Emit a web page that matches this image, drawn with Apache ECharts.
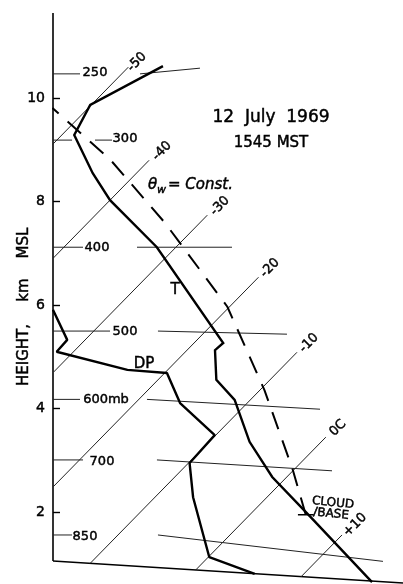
<!DOCTYPE html>
<html>
<head>
<meta charset="utf-8">
<script src="https://cdn.jsdelivr.net/npm/echarts@6/dist/echarts.min.js"></script>
<style>
  html, body { margin: 0; padding: 0; background: #fff; }
  #chart { width: 403px; height: 584px; }
</style>
</head>
<body>
<div id="chart"></div>
<script>
// sounding 12 July 1969, 1545 MST -- heights in km MSL, temperatures in deg C
const tempHeight = [0.65, 1.91, 2.68, 3.36, 4.17, 4.56, 5.13, 5.27, 7.12, 8.03, 8.55, 9.29, 9.87, 10.62];
const tempValue  = [16.8, 5.6, -1.3, -6.4, -11.4, -14.8, -17.5, -17.4, -31.7, -40.0, -43.9, -48.9, -50.1, -47.0];

const dewHeight = [0.81, 1.13, 2.29, 2.95, 3.49, 4.11, 4.69, 4.75, 5.10, 5.33, 5.91];
const dewValue  = [5.6, 0.1, -6.6, -9.9, -10.1, -16.0, -19.8, -23.6, -31.5, -31.6, -35.5];

// moist adiabat from cloud base
const thetaHeight = [1.95, 2.82, 4.36, 5.97, 7.59, 8.81, 9.81];
const thetaValue  = [5.0, -0.1, -9.6, -20.2, -33.1, -43.5, -53.2];
const cloudBaseHeight = 1.95;
const cloudBaseTemp = 5.0;

// isotherms
const isoTemps  = [-50, -40, -30, -20, -10, 0, 10];
const isoLabels = ['-50', '-40', '-30', '-20', '-10', '0C', '+10'];
const isoBottom = [9.11, 6.91, 4.71, 2.49, 1.01, 0.88, 0.75];
const isoTop    = [10.60, 8.80, 7.74, 6.54, 5.09, 3.45, 1.56];

// isobars (height at the axis and at the right end, skewed x of the pieces)
const isobarLabels = ['250', '300', '400', '500', '600mb', '700', '850'];
const isobarHeight = [10.47, 9.19, 7.12, 5.50, 4.18, 3.01, 1.56];
const isobarEndHeight = [10.58, 9.19, 7.12, 5.44, 3.99, 2.80, 1.05];
const isobarLeftEnd   = [-6.33, -7.04, -6.06, -3.65, -6.33, -6.06, -7.04];
const isobarRightFrom = [-0.97, -4.99, -1.24, 0.63, -0.35, 0.54, 0.63];
const isobarRightTo   = [4.38, -3.47, 7.24, 12.15, 15.10, 16.17, 20.72];

const heightTicks = [2, 4, 6, 8, 10];

const SKEW = 4.527;           // skew of the isotherms, deg per km
const X_MIN = -8.741, X_MAX = 22.509;
const Y_MIN = 0.632, Y_MAX = 11.646;
const BASE_LEFT = 1.057;      // where the frame bottom meets the axis

function skew(t, z) { return t + SKEW * z; }

const chart = echarts.init(document.getElementById('chart'));

const thin = { color: '#222', width: 1 };
function lineSeries(data, style, extra) {
  return Object.assign({
    type: 'line', data: data, symbol: 'none', silent: true,
    lineStyle: style, animation: false
  }, extra || {});
}

const series = [];

// frame
series.push(lineSeries([[X_MIN, BASE_LEFT], [X_MIN, Y_MAX]], { color: '#000', width: 1.6 }, { clip: false }));
series.push(lineSeries([[X_MIN, BASE_LEFT], [X_MAX, Y_MIN]], { color: '#000', width: 1.4 }, { clip: false }));

// isotherms
isoTemps.forEach(function (t, i) {
  series.push(lineSeries([[skew(t, isoBottom[i]), isoBottom[i]], [skew(t, isoTop[i]), isoTop[i]]], thin));
});

// isobars
isobarLabels.forEach(function (p, i) {
  series.push(lineSeries([[X_MIN, isobarHeight[i]], [isobarLeftEnd[i], isobarHeight[i]]], thin));
  series.push(lineSeries([[isobarRightFrom[i], isobarHeight[i]], [isobarRightTo[i], isobarEndHeight[i]]], thin));
});

// temperature, dew point, moist adiabat
series.push(lineSeries(tempHeight.map(function (z, i) { return [skew(tempValue[i], z), z]; }),
  { color: '#000', width: 2.4, join: 'miter' }));
series.push(lineSeries(dewHeight.map(function (z, i) { return [skew(dewValue[i], z), z]; }),
  { color: '#000', width: 2.4 }));
series.push(lineSeries(thetaHeight.map(function (z, i) { return [skew(thetaValue[i], z), z]; }),
  { color: '#000', width: 2, type: [18, 12] }));

// cloud base marker
const cb = skew(cloudBaseTemp, cloudBaseHeight);
series.push(lineSeries([[cb - 0.7, cloudBaseHeight], [cb + 0.7, cloudBaseHeight]], { color: '#000', width: 1.4 }));

const FONT = 'DejaVu Sans';
function txt(text, x, y, size, opts) {
  opts = opts || {};
  return {
    type: 'text', x: x, y: y, rotation: opts.rotation || 0, silent: true,
    style: {
      text: text, fill: '#000', stroke: '#000', lineWidth: 0.45,
      font: (opts.style || 'normal') + ' normal ' + size + 'px "' + FONT + '"',
      textAlign: opts.align || 'center', textVerticalAlign: 'middle'
    }
  };
}

const isobarLabelPos = [[95, 73], [125, 139], [97, 248], [125, 332], [106, 400], [102, 462], [85, 537]];
const isoLabelPos = [[137, 62], [162, 151], [220, 206], [270, 268], [309, 343], [338, 428], [355, 525]];

const graphics = [];
isobarLabels.forEach(function (p, i) {
  graphics.push(txt(p, isobarLabelPos[i][0], isobarLabelPos[i][1], 13));
});
isoLabels.forEach(function (l, i) {
  graphics.push(txt(l, isoLabelPos[i][0], isoLabelPos[i][1], 13, { rotation: Math.PI / 4 }));
});
graphics.push(txt('12  July  1969', 271, 118, 17));
graphics.push(txt('1545 MST', 271, 143, 15));
graphics.push(txt('\u03b8', 148, 185, 15, { style: 'italic', align: 'left' }));
graphics.push(txt('w', 157, 190, 11, { style: 'italic', align: 'left' }));
graphics.push(txt('= Const.', 168, 185, 15, { style: 'italic', align: 'left' }));
graphics.push(txt('T', 175, 290, 15));
graphics.push(txt('DP', 144, 364, 15));
graphics.push(txt('CLOUD', 333, 503, 12, { rotation: -0.1 }));
graphics.push(txt('/BASE', 331, 514, 12, { rotation: -0.1 }));
graphics.push(txt('HEIGHT,', 24, 355, 15, { rotation: Math.PI / 2 }));
graphics.push(txt('km', 24, 290, 15, { rotation: Math.PI / 2 }));
graphics.push(txt('MSL', 24, 243, 15, { rotation: Math.PI / 2 }));

chart.setOption({
  animation: false,
  backgroundColor: '#fff',
  grid: { left: 53, right: 0, top: 13, bottom: 1 },
  xAxis: {
    type: 'value', min: X_MIN, max: X_MAX, show: false
  },
  yAxis: {
    type: 'value', min: Y_MIN, max: Y_MAX,
    axisLine: { show: false, onZero: false },
    splitLine: { show: false },
    axisTick: { show: true, inside: true, length: 7, customValues: heightTicks, lineStyle: { color: '#000', width: 1.4 } },
    axisLabel: {
      customValues: heightTicks, margin: 8, color: '#000', fontSize: 14, fontFamily: FONT,
      textBorderColor: '#000', textBorderWidth: 0.45
    }
  },
  series: series,
  graphic: graphics
});
</script>
</body>
</html>
